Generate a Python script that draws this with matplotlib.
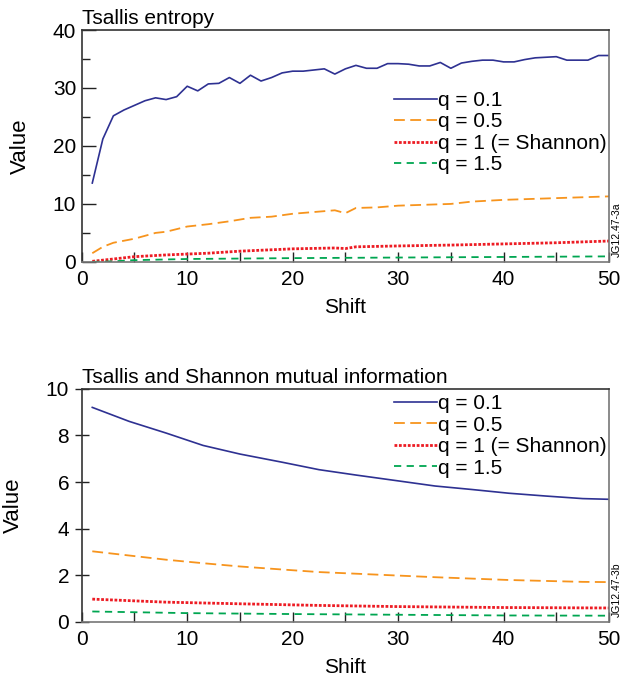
import matplotlib
matplotlib.use("Agg")
import matplotlib.pyplot as plt
from matplotlib.ticker import MultipleLocator

plt.rcParams['font.family'] = ['Liberation Sans', 'DejaVu Sans']

# ---- Top panel: Tsallis entropy ----
x_top_01 = list(range(1, 51))
y_top_01 = [13.6, 21.2, 25.2, 26.2, 27.0, 27.8, 28.3, 28.0, 28.5, 30.3,
            29.5, 30.7, 30.8, 31.8, 30.8, 32.2, 31.2, 31.8, 32.6, 32.9,
            32.9, 33.1, 33.3, 32.4, 33.3, 33.9, 33.4, 33.4, 34.2, 34.2,
            34.1, 33.8, 33.8, 34.4, 33.4, 34.3, 34.6, 34.8, 34.8, 34.5,
            34.5, 34.9, 35.2, 35.3, 35.4, 34.8, 34.8, 34.8, 35.6, 35.6]
x_top_05 = [1, 2, 3, 5, 7, 8, 10, 12, 14, 16, 18, 20, 22, 24, 25, 26, 28, 30, 35, 37, 40, 45, 50]
y_top_05 = [1.5, 2.6, 3.3, 4.0, 5.0, 5.2, 6.1, 6.5, 7.0, 7.6, 7.8, 8.3, 8.6, 8.9, 8.4, 9.3, 9.4, 9.7, 10.0, 10.4, 10.7, 11.0, 11.3]
x_top_1 = [1, 3, 5, 8, 10, 12, 15, 20, 24, 25, 26, 30, 35, 40, 45, 50]
y_top_1 = [0.1, 0.5, 0.9, 1.2, 1.35, 1.5, 1.85, 2.25, 2.4, 2.3, 2.6, 2.75, 2.9, 3.1, 3.3, 3.6]
x_top_15 = [1, 3, 5, 10, 20, 30, 40, 50]
y_top_15 = [0.0, 0.1, 0.3, 0.5, 0.65, 0.75, 0.85, 0.95]

# ---- Bottom panel: mutual information ----
x_bot = [1, 4.5, 8, 11.5, 15, 19, 22.5, 26, 30, 33.5, 37, 40.5, 44, 47.5, 50]
y_bot_01 = [9.2, 8.6, 8.1, 7.57, 7.2, 6.85, 6.53, 6.3, 6.05, 5.83, 5.68, 5.52, 5.4, 5.29, 5.26]
y_bot_05 = [3.03, 2.85, 2.67, 2.52, 2.38, 2.25, 2.14, 2.07, 1.99, 1.92, 1.86, 1.80, 1.76, 1.72, 1.71]
x_bot_1 = [1, 8, 15, 22.5, 30, 40, 50]
y_bot_1 = [0.98, 0.85, 0.78, 0.71, 0.66, 0.62, 0.6]
x_bot_15 = [1, 10, 20, 30, 40, 50]
y_bot_15 = [0.45, 0.38, 0.34, 0.31, 0.28, 0.27]

labels = ['q = 0.1', 'q = 0.5', 'q = 1 (= Shannon)', 'q = 1.5']
c_blue, c_orange, c_red, c_green = '#2E3192', '#F7941D', '#ED1C24', '#00A651'

fig = plt.figure(figsize=(6.24, 6.82), dpi=100)
ax1 = fig.add_axes([0.131, 0.616, 0.845, 0.340])
ax2 = fig.add_axes([0.131, 0.088, 0.845, 0.342])

def style(ax, ymax, ymaj, ymin, tag, ydir):
    ax.set_xlim(0, 50)
    ax.set_ylim(0, ymax)
    ax.xaxis.set_major_locator(MultipleLocator(10))
    ax.xaxis.set_minor_locator(MultipleLocator(5))
    ax.yaxis.set_major_locator(MultipleLocator(ymaj))
    ax.yaxis.set_minor_locator(MultipleLocator(ymin))
    ax.tick_params(which='both', direction='in', top=False, right=False,
                   labelsize=15, color='#222222', width=1)
    ax.tick_params(axis='x', which='both', length=7, pad=6)
    ax.tick_params(axis='y', which='major', length=10, pad=4, direction=ydir)
    ax.tick_params(axis='y', which='minor', length=6, direction=ydir)
    for s in ax.spines.values():
        s.set_color('#777777')
        s.set_linewidth(1.2)
    ax.spines['left'].set_color('#333333')
    ax.spines['top'].set_color('#333333')
    ax.set_xlabel('Shift', fontsize=15, labelpad=6)
    ax.set_ylabel('Value', fontsize=16, labelpad=16)
    ax.text(1.005, 0.02, tag, transform=ax.transAxes, rotation=90,
            fontsize=7.5, ha='left', va='bottom')

def legend(ax, anchor):
    ax.legend(loc='upper left', bbox_to_anchor=anchor, frameon=False,
              fontsize=15, handlelength=2.05, handletextpad=0.05,
              labelspacing=0.12, borderaxespad=0, borderpad=0.2)

ax1.plot(x_top_01, y_top_01, color=c_blue, lw=1.2, label=labels[0])
ax1.plot(x_top_05, y_top_05, color=c_orange, lw=1.3, ls=(0, (6, 3)), label=labels[1])
ax1.plot(x_top_1, y_top_1, color=c_red, lw=2.0, ls=(0, (1, 0.6)), label=labels[2])
ax1.plot(x_top_15, y_top_15, color=c_green, lw=1.3, ls=(0, (4, 3)), label=labels[3])
style(ax1, 40, 10, 5, 'JG12.47-3a', 'in')
ax1.set_title('Tsallis entropy', loc='left', fontsize=15, pad=4)
legend(ax1, (0.585, 0.755))

ax2.plot(x_bot, y_bot_01, color=c_blue, lw=1.2, label=labels[0])
ax2.plot(x_bot, y_bot_05, color=c_orange, lw=1.3, ls=(0, (6, 3)), label=labels[1])
ax2.plot(x_bot_1, y_bot_1, color=c_red, lw=2.0, ls=(0, (1, 0.6)), label=labels[2])
ax2.plot(x_bot_15, y_bot_15, color=c_green, lw=1.3, ls=(0, (4, 3)), label=labels[3])
style(ax2, 10, 2, 2, 'JG12.47-3b', 'inout')
ax2.set_title('Tsallis and Shannon mutual information', loc='left', fontsize=15, pad=4)
legend(ax2, (0.585, 0.995))

fig.savefig('out.png', dpi=100)
